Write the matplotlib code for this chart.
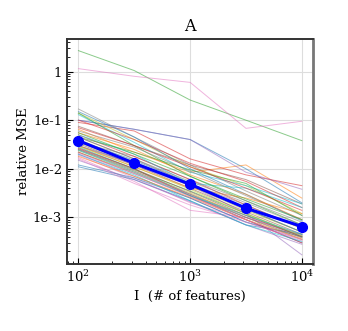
import numpy as np
import matplotlib as mpl
mpl.use("Agg")
import matplotlib.pyplot as plt

mpl.rcParams['font.family'] = "serif"
mpl.rcParams['font.serif'] = ["DejaVu Serif"]
mpl.rcParams['mathtext.fontset'] = "dejavuserif"

# number of features
features = [100, 316, 1000, 3162, 10000]

# mean relative MSE (bold line)
mean_mse = [0.038, 0.013, 0.0048, 0.00155, 0.00065]

# individual runs, one row per run
run_mse = [
    [0.10, 0.065, 0.040, 0.010, 0.0020],
    [0.065, 0.022, 0.0085, 0.012, 0.0025],
    [2.7, 1.05, 0.26, 0.10, 0.038],
    [0.09, 0.060, 0.016, 0.0075, 0.0045],
    [0.10, 0.065, 0.040, 0.0085, 0.0038],
    [0.075, 0.030, 0.012, 0.0060, 0.0019],
    [1.15, 0.80, 0.60, 0.068, 0.095],
    [0.17, 0.045, 0.012, 0.0035, 0.0011],
    [0.14, 0.040, 0.011, 0.0045, 0.0012],
    [0.13, 0.035, 0.0085, 0.0045, 0.0019],
    [0.15, 0.045, 0.010, 0.0030, 0.00085],
    [0.055, 0.025, 0.0075, 0.0030, 0.0009],
    [0.14, 0.030, 0.0070, 0.0022, 0.0007],
    [0.10, 0.040, 0.013, 0.0055, 0.0016],
    [0.030, 0.012, 0.0045, 0.0012, 0.00017],
    [0.045, 0.016, 0.0050, 0.0015, 0.0005],
    [0.017, 0.0055, 0.0014, 0.0010, 0.00045],
    [0.035, 0.018, 0.0060, 0.0022, 0.0008],
    [0.040, 0.014, 0.0045, 0.0014, 0.0005],
    [0.028, 0.010, 0.0030, 0.0009, 0.0003],
    [0.011, 0.0060, 0.0022, 0.0007, 0.00045],
    [0.022, 0.0085, 0.0030, 0.0011, 0.0004],
    [0.025, 0.0095, 0.0035, 0.0012, 0.0004],
    [0.050, 0.018, 0.0060, 0.0018, 0.0006],
    [0.020, 0.0070, 0.0025, 0.0008, 0.00035],
    [0.033, 0.012, 0.0040, 0.0013, 0.00045],
    [0.019, 0.0065, 0.0020, 0.0009, 0.0003],
    [0.060, 0.028, 0.009, 0.0028, 0.0009],
    [0.024, 0.0090, 0.0032, 0.0010, 0.00035],
    [0.050, 0.020, 0.0050, 0.0040, 0.0016],
    [0.012, 0.0065, 0.0025, 0.0008, 0.0004],
    [0.030, 0.011, 0.0040, 0.0025, 0.0012],
    [0.045, 0.022, 0.0095, 0.0050, 0.0011],
    [0.026, 0.0100, 0.0028, 0.0009, 0.0003],
    [0.015, 0.0060, 0.0021, 0.0007, 0.00028],
    [0.022, 0.0080, 0.0028, 0.0010, 0.00038],
    [0.016, 0.0050, 0.0018, 0.0008, 0.00033],
    [0.030, 0.013, 0.0050, 0.0018, 0.0006],
    [0.035, 0.013, 0.0045, 0.0016, 0.0006],
    [0.020, 0.0075, 0.0022, 0.0007, 0.00032],
    [0.038, 0.015, 0.0050, 0.0015, 0.0005],
    [0.018, 0.0070, 0.0026, 0.0009, 0.00036],
    [0.055, 0.020, 0.0070, 0.0024, 0.0009],
    [0.070, 0.030, 0.011, 0.0040, 0.0014],
    [0.025, 0.0090, 0.0030, 0.0010, 0.00042],
    [0.027, 0.010, 0.0034, 0.0011, 0.0004],
    [0.021, 0.0080, 0.0027, 0.0009, 0.00035],
    [0.045, 0.016, 0.0055, 0.0020, 0.0007],
    [0.029, 0.011, 0.0038, 0.0012, 0.00042],
    [0.024, 0.0085, 0.0028, 0.0011, 0.00045],
]

ytick_vals = [1e-3, 1e-2, 1e-1, 1]
ytick_labels = ["1e-3", "1e-2", "1e-1", "1"]

fig = plt.figure(figsize=(3.48, 3.31), dpi=100)
ax = fig.add_axes([0.1925, 0.2024, 0.707, 0.680])

colors = plt.rcParams['axes.prop_cycle'].by_key()['color']
for i, row in enumerate(run_mse):
    ax.plot(features, row, color=colors[i % len(colors)], lw=0.7, alpha=0.55)

ax.plot(features, mean_mse, color="#0000ff", lw=2.2, marker="o", ms=7, zorder=5)

ax.set_xscale("log")
ax.set_yscale("log")
ax.set_xlim(79, 12600)
ax.set_ylim(1.1e-4, 4.7)
ax.set_yticks(ytick_vals)
ax.set_yticklabels(ytick_labels)

ax.grid(True, which="major", color="#dddddd", lw=0.8)
ax.set_axisbelow(True)
ax.tick_params(which="both", direction="in", top=False, right=False, labelsize=9.5)
ax.tick_params(which="major", length=4)
ax.tick_params(which="minor", length=2.5)

for s in ["left", "bottom", "top"]:
    ax.spines[s].set_color("#333333")
    ax.spines[s].set_linewidth(1.4)
ax.spines["right"].set_color("#777777")
ax.spines["right"].set_linewidth(2)

ax.set_title("A", fontsize=11.5)
ax.set_xlabel("I  (# of features)", fontsize=9.5)
ax.set_ylabel("relative MSE", fontsize=9.5, labelpad=2)

fig.savefig("out.png", dpi=100)
